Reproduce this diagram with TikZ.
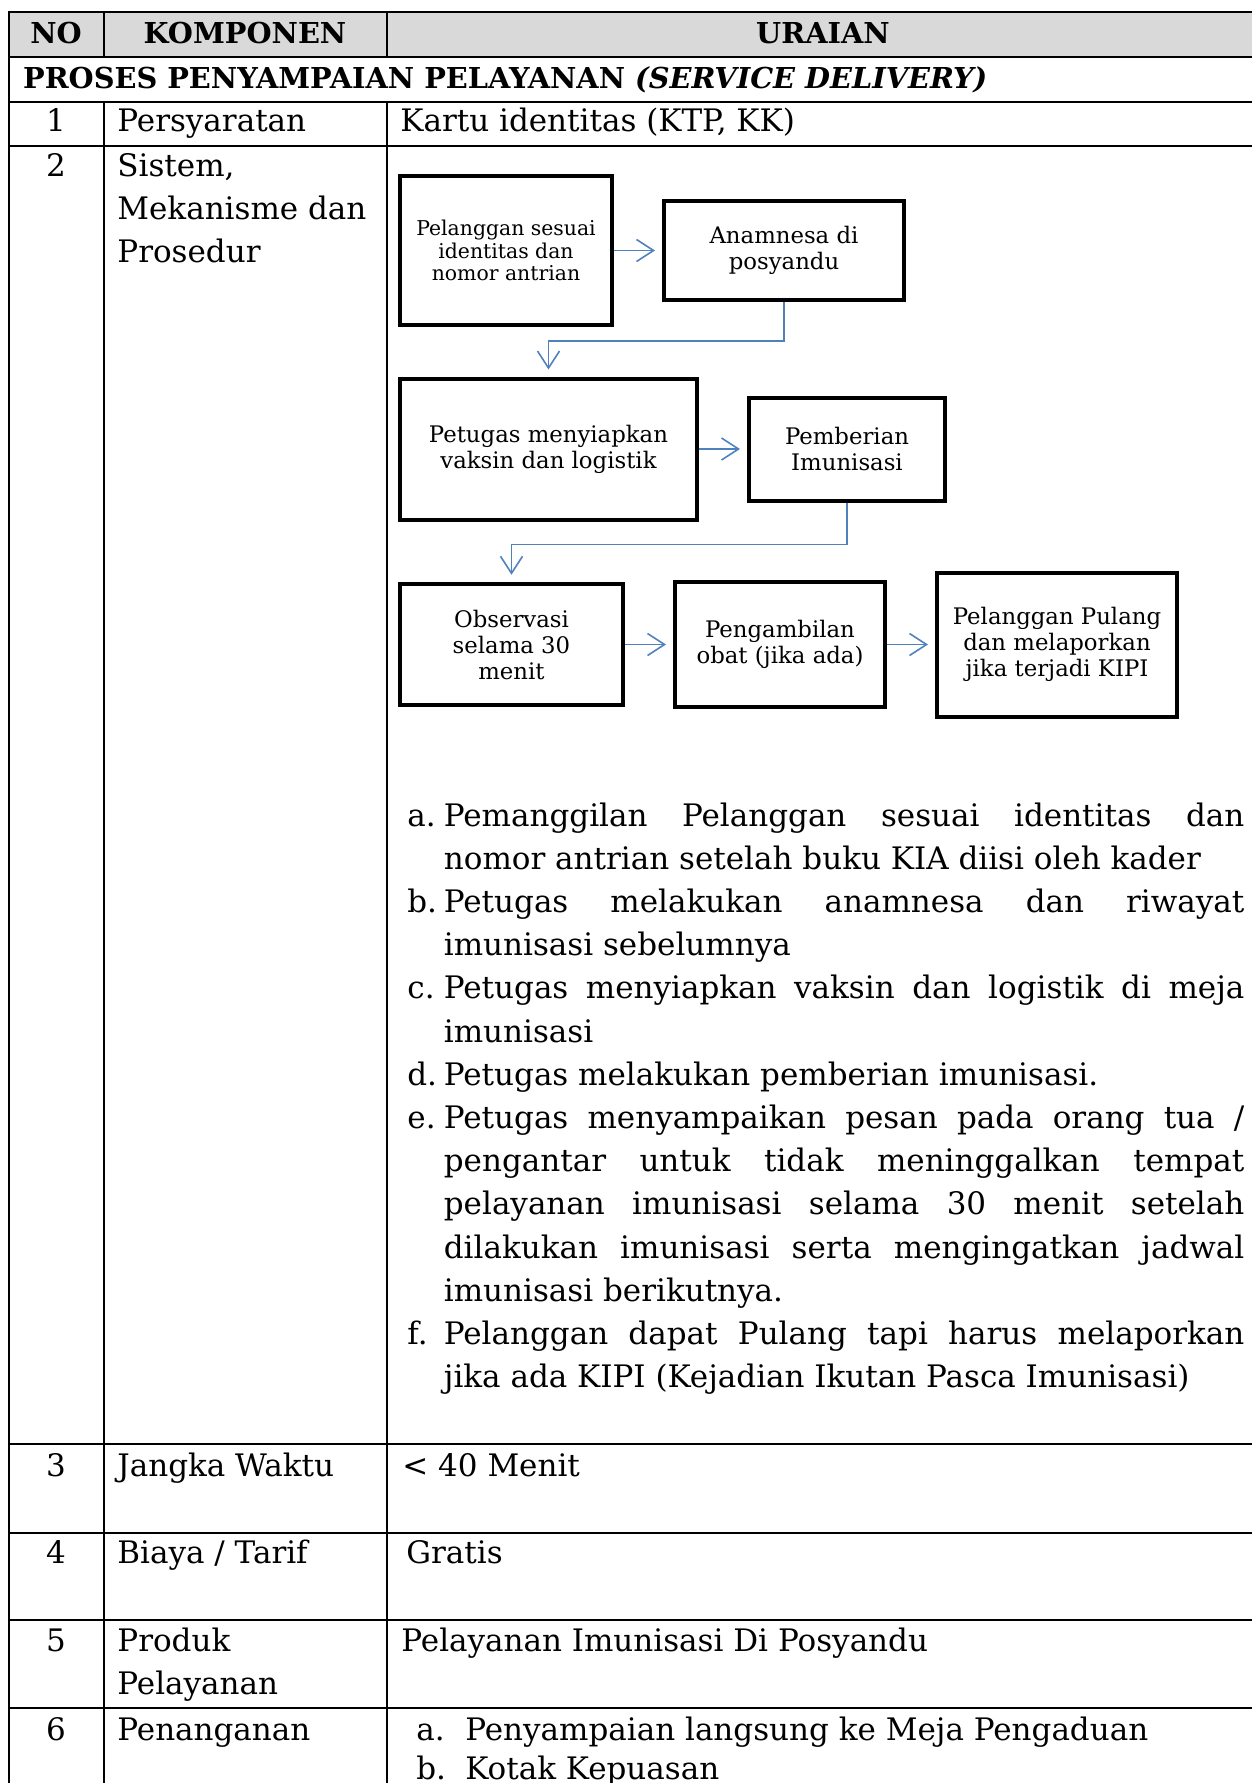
\documentclass[tikz,border=0pt]{standalone}
\usepackage{fontspec}
\setmainfont{DejaVu Serif}
\usetikzlibrary{arrows.meta}
\definecolor{headgray}{HTML}{D9D9D9}
\definecolor{flowblue}{HTML}{4F81BD}
\newcommand{\bodyfont}{\fontsize{15.5}{21.6}\selectfont}
\newcommand{\boldfont}{\fontsize{14.4}{21.6}\selectfont\bfseries}
\tikzset{
  tableline/.style={line width=1pt, line cap=rect},
  celltext/.style={inner sep=0, anchor=base west, font=\bodyfont},
  cellnum/.style={inner sep=0, anchor=base, font=\bodyfont},
  headtext/.style={inner sep=0, anchor=base, font=\boldfont},
  flowbox/.style={draw, line width=2pt, inner sep=2pt, align=center,
    font=\fontsize{11.4}{13}\selectfont},
  flowarrow/.style={draw=flowblue, line width=0.8pt,
    -{Straight Barb[length=8.5pt,width=11pt]}, shorten >=3.5pt},
}
\begin{document}
\begin{tikzpicture}[x=0.5pt,y=-0.5pt]
\useasboundingbox (0,0) rectangle (1252,1783);

% table grid
\fill[headgray] (9,12) rectangle (1262,57);
\foreach \yy in {12,57,101.5,145.5,1444,1533,1619.5,1708}
  \draw[tableline] (9,\yy) -- (1262,\yy);
\draw[tableline] (9,12) -- (9,1790);
\draw[tableline] (104,12) -- (104,57) (104,101.5) -- (104,1790);
\draw[tableline] (386.7,12) -- (386.7,57) (386.7,101.5) -- (386.7,1790);

% header
\node[headtext] (hno) at (56,43) {NO};
\node[headtext] (hkomp) at (245,43) {KOMPONEN};
\node[headtext] (huraian) at (823,43) {URAIAN};
\node[celltext, font=\boldfont] (sect) at (22.7,88)
  {PROSES PENYAMPAIAN PELAYANAN \textit{(SERVICE DELIVERY)}};

% row 1
\node[cellnum] (n1) at (56,131.7) {1};
\node[celltext] (k1) at (117,131.7) {Persyaratan};
\node[celltext] (u1) at (400,131.7) {Kartu identitas (KTP, KK)};

% row 2
\node[cellnum] (n2) at (56,176) {2};
\node[celltext] (k2) at (117,176)
  {\begin{tabular}[t]{@{}l@{}}Sistem,\\Mekanisme dan\\Prosedur\end{tabular}};

% flow chart
\node[flowbox, minimum width=106pt, minimum height=74.5pt,
  font=\fontsize{10.2}{11.35}\selectfont] (b1) at (506,250.5)
  {Pelanggan sesuai\\identitas dan\\nomor antrian};
\node[flowbox, minimum width=120pt, minimum height=49.5pt] (b2) at (784,250.5)
  {Anamnesa di\\posyandu};
\node[flowbox, minimum width=148.5pt, minimum height=70.5pt] (b3) at (548.5,449)
  {Petugas menyiapkan\\vaksin dan logistik};
\node[flowbox, minimum width=98pt, minimum height=51.5pt] (b4) at (847,449)
  {Pemberian\\Imunisasi};
\node[flowbox, minimum width=111.5pt, minimum height=60.75pt] (b5) at (511.5,644.5)
  {Observasi\\selama 30\\menit};
\node[flowbox, minimum width=105pt, minimum height=62.5pt] (b6) at (780,644.5)
  {Pengambilan\\obat (jika ada)};
\node[flowbox, minimum width=120pt, minimum height=72pt] (b7) at (1057,644.5)
  {Pelanggan Pulang\\dan melaporkan\\jika terjadi KIPI};

\draw[flowarrow] (b1) -- (b2);
\draw[flowarrow] (b2.south) -- ++(0,39) -| (b3.north);
\draw[flowarrow] (b3) -- (b4);
\draw[flowarrow] (b4.south) -- ++(0,42) -| (b5.north);
\draw[flowarrow] (b5) -- (b6);
\draw[flowarrow] (b6) -- (b7);

% procedure steps
\node[celltext] (steps) at (407,826) {\begin{tabular}[t]{@{}l@{}l@{}}
\makebox[18.25pt][l]{a.}&\makebox[400.25pt][s]{Pemanggilan Pelanggan sesuai identitas dan}\\
&nomor antrian setelah buku KIA diisi oleh kader\\
\makebox[18.25pt][l]{b.}&\makebox[400.25pt][s]{Petugas melakukan anamnesa dan riwayat}\\
&imunisasi sebelumnya\\
\makebox[18.25pt][l]{c.}&\makebox[400.25pt][s]{Petugas menyiapkan vaksin dan logistik di meja}\\
&imunisasi\\
\makebox[18.25pt][l]{d.}&Petugas melakukan pemberian imunisasi.\\
\makebox[18.25pt][l]{e.}&\makebox[400.25pt][s]{Petugas menyampaikan pesan pada orang tua /}\\
&\makebox[400.25pt][s]{pengantar untuk tidak meninggalkan tempat}\\
&\makebox[400.25pt][s]{pelayanan imunisasi selama 30 menit setelah}\\
&\makebox[400.25pt][s]{dilakukan imunisasi serta mengingatkan jadwal}\\
&imunisasi berikutnya.\\
\makebox[18.25pt][l]{f.}&\makebox[400.25pt][s]{Pelanggan dapat Pulang tapi harus melaporkan}\\
&jika ada KIPI (Kejadian Ikutan Pasca Imunisasi)
\end{tabular}};

% rows 3 to 6
\node[cellnum] (n3) at (56,1476) {3};
\node[celltext] (k3) at (117,1476) {Jangka Waktu};
\node[celltext] (u3) at (402,1476) {< 40 Menit};

\node[cellnum] (n4) at (56,1563) {4};
\node[celltext] (k4) at (117,1563) {Biaya / Tarif};
\node[celltext] (u4) at (406,1563) {Gratis};

\node[cellnum] (n5) at (56,1651) {5};
\node[celltext] (k5) at (117,1651)
  {\begin{tabular}[t]{@{}l@{}}Produk\\Pelayanan\end{tabular}};
\node[celltext] (u5) at (401,1651) {Pelayanan Imunisasi Di Posyandu};

\node[cellnum] (n6) at (56,1740) {6};
\node[celltext] (k6) at (117,1740) {Penanganan};
\node[celltext, font=\fontsize{15.5}{19.9}\selectfont] (u6) at (416,1740)
  {\begin{tabular}[t]{@{}l@{}}\makebox[24.5pt][l]{a.}Penyampaian langsung ke Meja Pengaduan\\
   \makebox[24.5pt][l]{b.}Kotak Kepuasan\end{tabular}};
\end{tikzpicture}
\end{document}
